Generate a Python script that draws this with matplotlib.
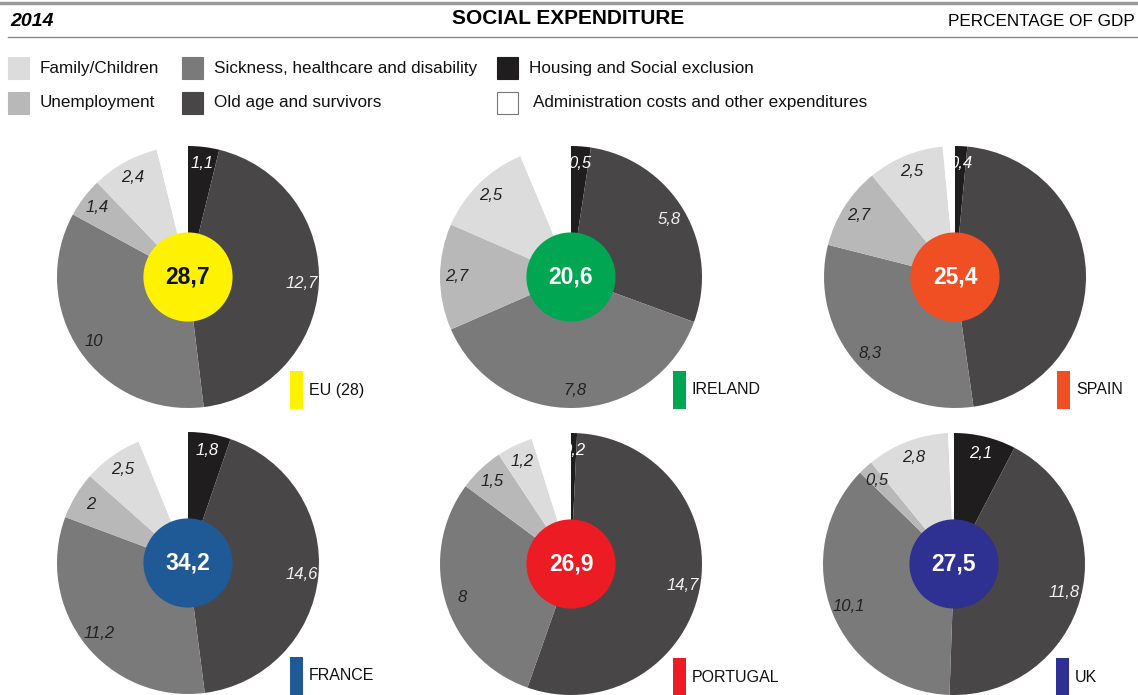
import numpy as np
import matplotlib.pyplot as plt
from matplotlib.patches import Rectangle, Circle

# data (% of GDP, 2014)
countries = ["EU (28)", "IRELAND", "SPAIN", "FRANCE", "PORTUGAL", "UK"]
totals = [28.7, 20.6, 25.4, 34.2, 26.9, 27.5]
housing = [1.1, 0.5, 0.4, 1.8, 0.2, 2.1]
old_age = [12.7, 5.8, 12.3, 14.6, 14.7, 11.8]
sickness = [10, 7.8, 8.3, 11.2, 8, 10.1]
unemployment = [1.4, 2.7, 2.7, 2, 1.5, 0.5]
family = [2.4, 2.5, 2.5, 2.5, 1.2, 2.8]
admin = [1.1, 1.3, 0.4, 2.1, 1.3, 0.2]
hidden_labels = {("SPAIN", 1)}  # old age value not printed for Spain

categories = ["Family/Children", "Sickness, healthcare and disability", "Housing and Social exclusion",
              "Unemployment", "Old age and survivors", "Administration costs and other expenditures"]

# styles
c_housing, c_old, c_sick, c_unemp, c_family, c_admin = "#1f1d1e", "#484647", "#7b7a7a", "#b8b8b8", "#dcdcdc", "#ffffff"
slice_colors = [c_housing, c_old, c_sick, c_unemp, c_family, c_admin]
label_colors = ["white", "#f2f2f2", "#222222", "#222222", "#222222", None]
center_colors = ["#fff200", "#00a651", "#f04e23", "#1f5a96", "#ed1c24", "#2e3192"]
center_text = ["#111111", "white", "white", "white", "white", "white"]

W, H = 1138, 695
R = 131
centers = [(188, 277), (571, 277), (955, 277), (188, 563), (571, 564), (954, 564)]

fig = plt.figure(figsize=(W / 100, H / 100), dpi=100)
bg = fig.add_axes([0, 0, 1, 1])
bg.set_xlim(0, W)
bg.set_ylim(H, 0)
bg.axis("off")

sans = ["Liberation Sans", "DejaVu Sans"]

# header
bg.plot([0, W], [3, 3], color="#9a9a9a", lw=2.5)
bg.plot([8, W], [37, 37], color="#888888", lw=1)
bg.text(10, 21, "2014", family=sans, fontsize=14, fontweight="bold", style="italic", va="center", ha="left")
bg.text(568, 19, "SOCIAL EXPENDITURE", family=sans, fontsize=15, fontweight="bold", va="center", ha="center")
bg.text(1135, 22, "PERCENTAGE OF GDP", family=sans, fontsize=12.3, va="center", ha="right")

# legend
leg_pos = [(8, 68), (182, 68), (497, 68), (8, 103), (182, 103), (497, 103)]
leg_cols = [c_family, c_sick, c_housing, c_unemp, c_old, c_admin]
for (x, y), col, name in zip(leg_pos, leg_cols, categories):
    ec = "#777777" if col == c_admin else col
    bg.add_patch(Rectangle((x, y - 11), 21, 22, facecolor=col, edgecolor=ec, lw=0.8))
    tx = x + 36 if col == c_admin else x + 32
    bg.text(tx, y, name, family=sans, fontsize=12.3, va="center", ha="left", color="#111111")

# pies
for i, country in enumerate(countries):
    cx, cy = centers[i]
    vals = [housing[i], old_age[i], sickness[i], unemployment[i], family[i], admin[i]]
    ax = fig.add_axes([(cx - R) / W, 1 - (cy + R) / H, 2 * R / W, 2 * R / H])
    wedges, _ = ax.pie(vals, colors=slice_colors, startangle=90, counterclock=False,
                       radius=1, wedgeprops=dict(linewidth=0))
    ax.set_xlim(-1, 1)
    ax.set_ylim(-1, 1)
    ax.set_aspect("equal")
    ax.axis("off")
    ax.add_patch(Circle((0, 0), 0.335, color=center_colors[i], zorder=3))
    ax.text(0, 0, f"{totals[i]:g}".replace(".", ","), ha="center", va="center", family=sans,
            fontsize=16.5, fontweight="bold", color=center_text[i], zorder=4)
    for k, w in enumerate(wedges[:5]):
        if (country, k) in hidden_labels:
            continue
        mid = np.deg2rad((w.theta1 + w.theta2) / 2)
        r = 0.87
        ax.text(r * np.cos(mid), r * np.sin(mid), f"{vals[k]:g}".replace(".", ","),
                ha="center", va="center", family=sans, fontsize=12, style="italic",
                color=label_colors[k], zorder=4)

    # country tag
    bg.add_patch(Rectangle((cx + 102, cy + 94), 13, 38, facecolor=center_colors[i], lw=0))
    bg.text(cx + 121, cy + 113, country, family=sans, fontsize=11.5, va="center", ha="left", color="#111111")

fig.savefig("out.png", dpi=100)
